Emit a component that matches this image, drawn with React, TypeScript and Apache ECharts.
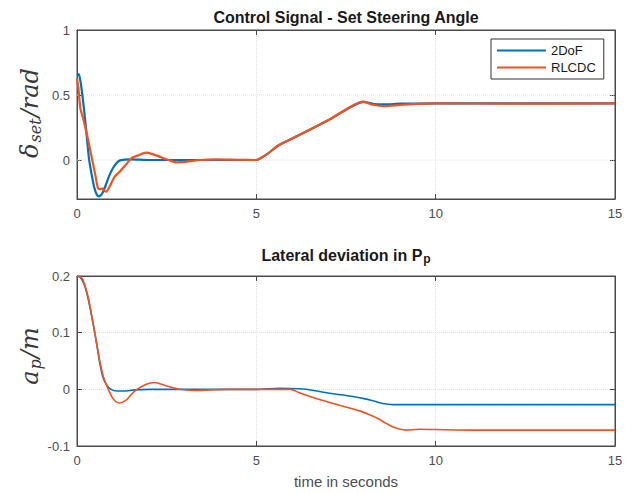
import React, { useEffect, useRef } from "react";
import * as echarts from "echarts";

// ---------- data ----------
const seriesNames = ["2DoF", "RLCDC"];

const xTicks = [0, 5, 10, 15];
const topYTicks = [0, 0.5, 1];
const bottomYTicks = [-0.1, 0, 0.1, 0.2];

const tTopDof = [0, 0.05, 0.1, 0.15, 0.2, 0.27, 0.33, 0.4, 0.48, 0.55, 0.61, 0.7, 0.82, 0.9, 1.0, 1.1, 1.2, 1.5, 2.0, 3, 4, 5, 5.3, 5.6, 6, 7, 8, 8.3, 8.6, 9, 10, 12, 15];
const vTopDof = [0.65, 0.66, 0.6, 0.5, 0.38, 0.19, 0.02, -0.1, -0.21, -0.265, -0.28, -0.26, -0.18, -0.12, -0.064, -0.025, -0.003, 0.005, 0.0, 0, 0, 0, 0.045, 0.11, 0.165, 0.305, 0.447, 0.43, 0.428, 0.433, 0.435, 0.435, 0.435];

const tTopRl = [0, 0.04, 0.094, 0.18, 0.26, 0.35, 0.446, 0.52, 0.585, 0.65, 0.707, 0.76, 0.818, 0.9, 1.05, 1.19, 1.35, 1.515, 1.7, 1.93, 2.1, 2.3, 2.55, 2.77, 3.0, 3.42, 3.88, 4.5, 5, 5.3, 5.6, 6, 7, 7.97, 8.25, 8.57, 9, 9.5, 10, 12, 15];
const vTopRl = [0.628, 0.55, 0.397, 0.31, 0.218, 0.1, -0.026, -0.13, -0.218, -0.225, -0.218, -0.235, -0.244, -0.21, -0.128, -0.09, -0.04, 0.013, 0.035, 0.056, 0.045, 0.026, 0.0, -0.018, -0.015, 0.0, 0.005, 0.002, 0, 0.045, 0.11, 0.165, 0.305, 0.449, 0.425, 0.415, 0.423, 0.431, 0.435, 0.434, 0.435];

const tBotDof = [0, 0.1, 0.2, 0.3, 0.45, 0.55, 0.63, 0.72, 0.82, 0.95, 1.1, 1.3, 1.6, 2, 3, 4, 5, 5.65, 6.2, 6.6, 7.04, 7.5, 7.97, 8.3, 8.52, 8.8, 9.2, 10, 15];
const vBotDof = [0.2, 0.197, 0.185, 0.163, 0.116, 0.08, 0.048, 0.022, 0.008, 0.0, -0.003, -0.003, -0.001, 0, 0, 0, 0, 0.002, 0.001, -0.002, -0.007, -0.011, -0.016, -0.021, -0.025, -0.027, -0.027, -0.027, -0.027];

const tBotRl = [0, 0.1, 0.17, 0.31, 0.45, 0.55, 0.63, 0.72, 0.82, 1.0, 1.19, 1.37, 1.5, 1.65, 1.93, 2.16, 2.49, 2.86, 3.26, 3.72, 4.2, 5, 5.96, 6.2, 6.76, 7.32, 7.88, 8.16, 8.4, 8.62, 8.8, 8.99, 9.18, 9.55, 10, 11, 15];
const vBotRl = [0.2, 0.198, 0.193, 0.163, 0.116, 0.08, 0.052, 0.026, 0.008, -0.016, -0.024, -0.019, -0.01, -0.001, 0.009, 0.012, 0.006, 0, -0.002, -0.001, 0, 0, 0, -0.006, -0.018, -0.028, -0.038, -0.045, -0.052, -0.06, -0.066, -0.07, -0.072, -0.0705, -0.071, -0.072, -0.072];

const topTitle = "Control Signal - Set Steering Angle";
const bottomTitleMain = "Lateral deviation in P";
const bottomTitleSub = "p";
const xName = "time in seconds";

// ---------- styles ----------
const BLUE = "#0072BD";
const ORANGE = "#F4511E";
const AX = "#4a4a4a";
const LBL = "#4d4d4d";
const GRIDC = "#e0e0e0";
const SANS = "'Liberation Sans', Arial, Helvetica, sans-serif";
const MATH = "'DejaVu Serif', 'Liberation Serif', serif";
const MATHC = "#3a3a3a";

const zip = (t: number[], v: number[]) => t.map((x, i) => [x, v[i]]);

function xAxisCfg(gridIndex: number, withName: boolean) {
  return {
    type: "value",
    gridIndex,
    position: "bottom",
    min: xTicks[0],
    max: xTicks[xTicks.length - 1],
    interval: 5,
    name: withName ? xName : "",
    nameLocation: "middle",
    nameGap: 28,
    nameTextStyle: { fontFamily: SANS, fontSize: 15, color: LBL },
    axisLine: { show: true, onZero: false, lineStyle: { color: AX, width: 1 } },
    axisTick: { show: true, inside: true, length: 5, lineStyle: { color: AX } },
    axisLabel: { show: true, margin: 8, fontFamily: SANS, fontSize: 13, color: LBL },
    splitLine: { show: true, lineStyle: { type: "dotted", color: GRIDC, width: 1 } },
  };
}
function xAxisMirror(gridIndex: number) {
  return {
    type: "value",
    gridIndex,
    position: "top",
    min: xTicks[0],
    max: xTicks[xTicks.length - 1],
    interval: 5,
    axisLine: { show: true, onZero: false, lineStyle: { color: AX, width: 1 } },
    axisTick: { show: true, inside: true, length: 5, lineStyle: { color: AX } },
    axisLabel: { show: false },
    splitLine: { show: false },
  };
}

const mathRich = {
  d: { fontFamily: MATH, fontStyle: "italic", fontSize: 24, fill: MATHC, lineHeight: 26 },
  s: { fontFamily: MATH, fontStyle: "italic", fontSize: 16, fill: MATHC, lineHeight: 16, verticalAlign: "bottom", padding: [18, 1, 0, 1] },
  r: { fontFamily: MATH, fontStyle: "italic", fontSize: 24, fill: MATHC, lineHeight: 26 },
};

export default function App() {
  const ref = useRef<HTMLDivElement>(null);
  useEffect(() => {
    if (!ref.current) return;
    const chart = echarts.init(ref.current, undefined, { renderer: "svg" });

    const topGridLines = topYTicks
      .filter((v) => v !== 1)
      .map((v) => ({
        type: "line",
        xAxisIndex: 0,
        yAxisIndex: 0,
        data: [[xTicks[0], v], [xTicks[xTicks.length - 1], v]],
        symbol: "none",
        silent: true,
        z: 0,
        lineStyle: { type: "dotted", color: GRIDC, width: 1 },
      }));

    const option: any = {
      animation: false,
      backgroundColor: "#ffffff",
      title: [
        {
          text: topTitle,
          left: 346,
          top: 9,
          textAlign: "center",
          padding: 0,
          textStyle: { fontFamily: SANS, fontSize: 16, fontWeight: "bold", color: "#1a1a1a" },
        },
        {
          text: `{b|${bottomTitleMain}}{s|${bottomTitleSub}}`,
          left: 346,
          top: 246,
          textAlign: "center",
          padding: 0,
          textStyle: {
            rich: {
              b: { fontFamily: SANS, fontSize: 16, fontWeight: "bold", color: "#1a1a1a", lineHeight: 19 },
              s: {
                fontFamily: SANS,
                fontSize: 12,
                fontWeight: "bold",
                color: "#1a1a1a",
                lineHeight: 12,
                verticalAlign: "bottom",
                padding: [18, 0, 0, 1],
              },
            },
          },
        },
      ],
      legend: {
        data: seriesNames,
        orient: "vertical",
        left: 491,
        top: 39,
        padding: [5, 8, 5, 5],
        itemGap: 4,
        itemWidth: 49,
        itemHeight: 14,
        borderColor: "#333333",
        borderWidth: 1,
        backgroundColor: "#ffffff",
        itemStyle: { opacity: 0 },
        textStyle: { fontFamily: SANS, fontSize: 13, color: "#1a1a1a" },
      },
      grid: [
        { left: 77, top: 30, width: 538, height: 169, show: true, borderColor: AX, borderWidth: 1, backgroundColor: "transparent" },
        { left: 77, top: 276, width: 538, height: 170, show: true, borderColor: AX, borderWidth: 1, backgroundColor: "transparent" },
      ],
      xAxis: [xAxisCfg(0, false), xAxisMirror(0), xAxisCfg(1, true), xAxisMirror(1)],
      yAxis: [
        {
          type: "value",
          gridIndex: 0,
          min: -0.3,
          max: 1,
          axisLine: { show: true, onZero: false, lineStyle: { color: AX } },
          axisTick: { show: true, inside: true, length: 5, customValues: topYTicks, lineStyle: { color: AX } },
          axisLabel: { show: true, margin: 7, customValues: topYTicks, fontFamily: SANS, fontSize: 13, color: LBL },
          splitLine: { show: false },
        },
        {
          type: "value",
          gridIndex: 0,
          position: "right",
          min: -0.3,
          max: 1,
          axisLine: { show: true, onZero: false, lineStyle: { color: AX } },
          axisTick: { show: true, inside: true, length: 5, customValues: topYTicks, lineStyle: { color: AX } },
          axisLabel: { show: false },
          splitLine: { show: false },
        },
        {
          type: "value",
          gridIndex: 1,
          min: bottomYTicks[0],
          max: bottomYTicks[bottomYTicks.length - 1],
          interval: 0.1,
          axisLine: { show: true, onZero: false, lineStyle: { color: AX } },
          axisTick: { show: true, inside: true, length: 5, lineStyle: { color: AX } },
          axisLabel: { show: true, margin: 7, fontFamily: SANS, fontSize: 13, color: LBL },
          splitLine: { show: true, lineStyle: { type: "dotted", color: GRIDC, width: 1 } },
        },
        {
          type: "value",
          gridIndex: 1,
          position: "right",
          min: bottomYTicks[0],
          max: bottomYTicks[bottomYTicks.length - 1],
          interval: 0.1,
          axisLine: { show: true, onZero: false, lineStyle: { color: AX } },
          axisTick: { show: true, inside: true, length: 5, lineStyle: { color: AX } },
          axisLabel: { show: false },
          splitLine: { show: false },
        },
      ],
      series: [
        ...topGridLines,
        {
          name: seriesNames[0],
          type: "line",
          xAxisIndex: 0,
          yAxisIndex: 0,
          data: zip(tTopDof, vTopDof),
          symbol: "none",
          smooth: 0.2,
          lineStyle: { color: BLUE, width: 2.2 },
          itemStyle: { color: BLUE },
          z: 3,
        },
        {
          name: seriesNames[1],
          type: "line",
          xAxisIndex: 0,
          yAxisIndex: 0,
          data: zip(tTopRl, vTopRl),
          symbol: "none",
          smooth: 0.2,
          lineStyle: { color: ORANGE, width: 2.2 },
          itemStyle: { color: ORANGE },
          z: 4,
        },
        {
          name: seriesNames[0],
          type: "line",
          xAxisIndex: 2,
          yAxisIndex: 2,
          data: zip(tBotDof, vBotDof),
          symbol: "none",
          smooth: 0.3,
          lineStyle: { color: BLUE, width: 1.6 },
          itemStyle: { color: BLUE },
          z: 3,
        },
        {
          name: seriesNames[1],
          type: "line",
          xAxisIndex: 2,
          yAxisIndex: 2,
          data: zip(tBotRl, vBotRl),
          symbol: "none",
          smooth: 0.3,
          lineStyle: { color: ORANGE, width: 1.6 },
          itemStyle: { color: ORANGE },
          z: 4,
        },
      ],
      graphic: [
        {
          type: "text",
          x: 30,
          y: 113,
          rotation: Math.PI / 2,
          style: {
            text: "{d|δ}{s|set}{r|/rad}",
            align: "center",
            verticalAlign: "middle",
            rich: mathRich,
          },
        },
        {
          type: "text",
          x: 30,
          y: 356,
          rotation: Math.PI / 2,
          style: {
            text: "{d|a}{s|p}{r|/m}",
            align: "center",
            verticalAlign: "middle",
            rich: mathRich,
          },
        },
      ],
    };
    chart.setOption(option);
    return () => chart.dispose();
  }, []);
  return (
    <div
      ref={ref}
      style={{ position: "fixed", left: 0, top: 0, width: 633, height: 494, background: "#fff" }}
    />
  );
}
